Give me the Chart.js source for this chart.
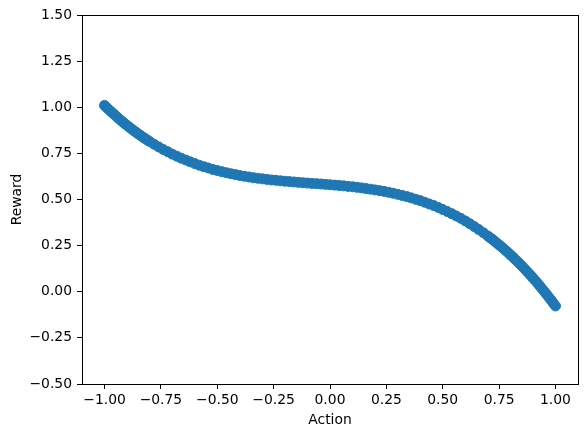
<!DOCTYPE html>
<html>
<head>
<meta charset="utf-8">
<script src="https://cdn.jsdelivr.net/npm/chart.js@4.4.1/dist/chart.umd.min.js"></script>
<style>
  html, body { margin: 0; padding: 0; background: #fff; }
  #wrap { width: 587px; height: 438px; }
</style>
</head>
<body>
<div id="wrap"><canvas id="rewardChart"></canvas></div>
<script>
// action values (left to right)
const actions = [
  -1.00, -0.98, -0.96, -0.94, -0.92, -0.90, -0.88, -0.86, -0.84, -0.82,
  -0.80, -0.78, -0.76, -0.74, -0.72, -0.70, -0.68, -0.66, -0.64, -0.62,
  -0.60, -0.58, -0.56, -0.54, -0.52, -0.50, -0.48, -0.46, -0.44, -0.42,
  -0.40, -0.38, -0.36, -0.34, -0.32, -0.30, -0.28, -0.26, -0.24, -0.22,
  -0.20, -0.18, -0.16, -0.14, -0.12, -0.10, -0.08, -0.06, -0.04, -0.02,
  0.00, 0.02, 0.04, 0.06, 0.08, 0.10, 0.12, 0.14, 0.16, 0.18,
  0.20, 0.22, 0.24, 0.26, 0.28, 0.30, 0.32, 0.34, 0.36, 0.38,
  0.40, 0.42, 0.44, 0.46, 0.48, 0.50, 0.52, 0.54, 0.56, 0.58,
  0.60, 0.62, 0.64, 0.66, 0.68, 0.70, 0.72, 0.74, 0.76, 0.78,
  0.80, 0.82, 0.84, 0.86, 0.88, 0.90, 0.92, 0.94, 0.96, 0.98,
  1.00
];
const rewards = [
  1.010, 0.986, 0.964, 0.942, 0.921, 0.901, 0.882, 0.864, 0.847, 0.830,
  0.814, 0.799, 0.785, 0.771, 0.759, 0.746, 0.735, 0.724, 0.714, 0.704,
  0.695, 0.686, 0.678, 0.671, 0.663, 0.657, 0.651, 0.645, 0.640, 0.635,
  0.630, 0.626, 0.622, 0.618, 0.615, 0.612, 0.609, 0.606, 0.604, 0.601,
  0.599, 0.597, 0.595, 0.593, 0.591, 0.589, 0.587, 0.586, 0.584, 0.582,
  0.580, 0.578, 0.576, 0.574, 0.571, 0.569, 0.566, 0.563, 0.559, 0.556,
  0.552, 0.548, 0.544, 0.539, 0.534, 0.528, 0.522, 0.516, 0.509, 0.501,
  0.494, 0.485, 0.476, 0.467, 0.457, 0.446, 0.435, 0.423, 0.411, 0.398,
  0.384, 0.369, 0.353, 0.337, 0.320, 0.302, 0.284, 0.264, 0.244, 0.223,
  0.200, 0.177, 0.153, 0.128, 0.102, 0.075, 0.047, 0.017, -0.013, -0.044,
  -0.077
];
// extra samples where the band is steep (both ends)
const edgeActions = [
  -0.99, -0.97, -0.95, -0.93, -0.91, -0.89, -0.87, -0.85, -0.83, -0.81,
  0.71, 0.73, 0.75, 0.77, 0.79,
  0.81, 0.83, 0.85, 0.87, 0.89, 0.91, 0.93, 0.95, 0.97, 0.99
];
const edgeRewards = [
  0.998, 0.975, 0.953, 0.931, 0.911, 0.892, 0.873, 0.855, 0.838, 0.822,
  0.293, 0.274, 0.254, 0.233, 0.212,
  0.189, 0.165, 0.141, 0.115, 0.089, 0.061, 0.032, 0.002, -0.029, -0.061
];
const xTicks = [-1.00, -0.75, -0.50, -0.25, 0.00, 0.25, 0.50, 0.75, 1.00];
const yTicks = [-0.50, -0.25, 0.00, 0.25, 0.50, 0.75, 1.00, 1.25, 1.50];

const points = actions.map((a, i) => ({ x: a, y: rewards[i] }))
  .concat(edgeActions.map((a, i) => ({ x: a, y: edgeRewards[i] })));
const fmt = v => v.toFixed(2).replace('-', '\u2212');
const tickFont = { family: 'DejaVu Sans', size: 13.9 };

// top and right spines
const frame = {
  id: 'frame',
  afterDraw(chart) {
    const { ctx, chartArea: a } = chart;
    ctx.save();
    ctx.strokeStyle = '#000';
    ctx.lineWidth = 1;
    ctx.strokeRect(Math.round(a.left) + 0.5, Math.round(a.top) + 0.5,
      Math.round(a.right - a.left), Math.round(a.bottom - a.top));
    ctx.restore();
  }
};

const ctx = document.getElementById('rewardChart').getContext('2d');
new Chart(ctx, {
  type: 'scatter',
  data: {
    datasets: [{
      data: points,
      backgroundColor: '#1f77b4',
      borderColor: '#1f77b4',
      borderWidth: 1,
      pointRadius: 5,
      pointHoverRadius: 5
    }]
  },
  options: {
    responsive: true,
    maintainAspectRatio: false,
    animation: false,
    layout: { padding: { top: 15, right: 9, left: 0, bottom: 0 } },
    plugins: { legend: { display: false }, tooltip: { enabled: false } },
    scales: {
      x: {
        type: 'linear',
        min: -1.1,
        max: 1.1,
        afterBuildTicks: s => { s.ticks = xTicks.map(v => ({ value: v })); },
        afterFit: s => { s.height = 54; },
        grid: { drawOnChartArea: false, drawTicks: true, tickLength: 5, color: '#000' },
        border: { display: true, color: '#000' },
        ticks: { color: '#000', font: tickFont, padding: 3, maxRotation: 0, callback: v => fmt(v) },
        title: { display: true, text: 'Action', color: '#000', font: tickFont, padding: { top: 0, bottom: 9 } }
      },
      y: {
        type: 'linear',
        min: -0.5,
        max: 1.5,
        afterBuildTicks: s => { s.ticks = yTicks.map(v => ({ value: v })); },
        afterFit: s => { s.width = 82; },
        grid: { drawOnChartArea: false, drawTicks: true, tickLength: 5, color: '#000' },
        border: { display: true, color: '#000' },
        ticks: { color: '#000', font: tickFont, padding: 5, callback: v => fmt(v) },
        title: { display: true, text: 'Reward', color: '#000', font: tickFont, padding: { top: 9, bottom: 0 } }
      }
    }
  },
  plugins: [frame]
});
</script>
</body>
</html>
